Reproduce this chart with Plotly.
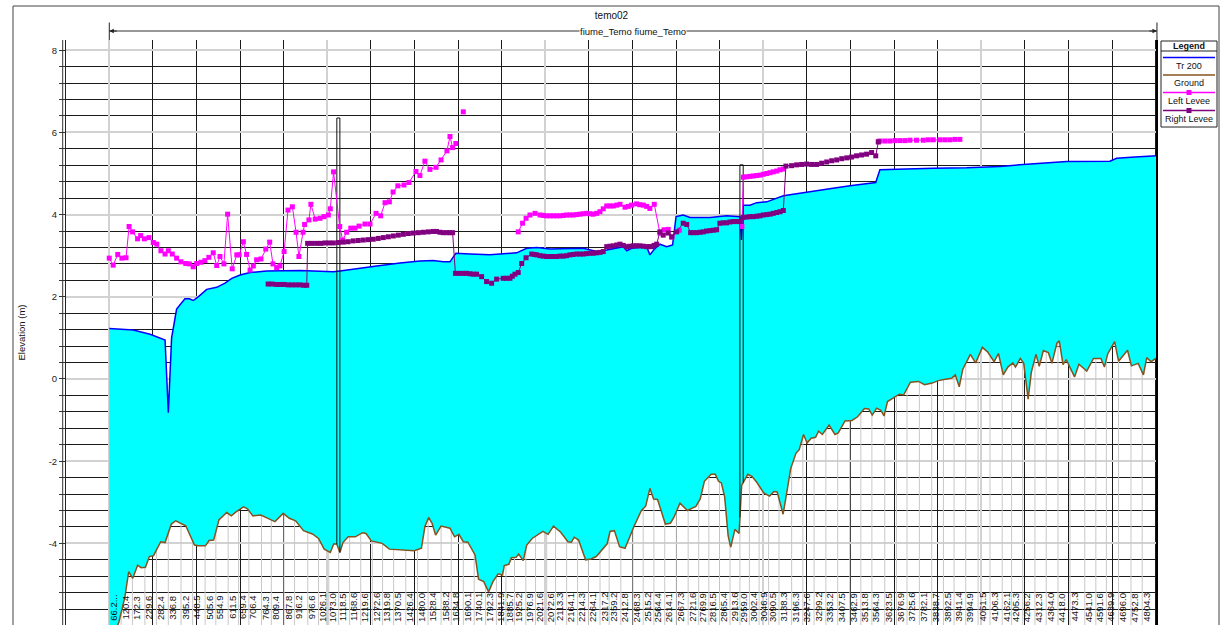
import numpy as np
import plotly.graph_objects as go

# ---------------- data ----------------
title_text = "temo02"
reach_text = "fiume_Temo fiume_Temo"
y_title = "Elevation (m)"

label_stations = [66.2, 120.4, 172.3, 229.6, 282.4, 336.8, 395.2, 448.5, 505.6, 554.9,
                  611.5, 659.4, 706.4, 764.3, 809.4, 867.8, 916.2, 976.6, 1026.1, 1073.0,
                  1118.5, 1168.6, 1219.6, 1272.6, 1319.8, 1370.5, 1426.4, 1480.0, 1528.4, 1588.2,
                  1634.8, 1690.1, 1740.1, 1792.3, 1841.9, 1885.7, 1925.2, 1976.9, 2021.6, 2072.6,
                  2113.3, 2164.1, 2214.3, 2264.1, 2317.2, 2359.2, 2412.8, 2468.3, 2515.2, 2564.4,
                  2614.1, 2667.3, 2721.6, 2769.9, 2816.5, 2865.4, 2913.6, 2959.0, 3002.4, 3046.9,
                  3090.5, 3138.3, 3196.3, 3247.6, 3299.2, 3353.2, 3407.5, 3462.9, 3513.8, 3564.3,
                  3623.5, 3676.9, 3725.6, 3782.1, 3838.7, 3892.5, 3941.4, 3994.9, 4051.5, 4106.3,
                  4162.1, 4205.3, 4256.2, 4312.3, 4364.0, 4418.0, 4473.3, 4541.0, 4591.6, 4639.9,
                  4696.0, 4752.8, 4804.3]
label_text = ["66.2..."] + [f"{v:.1f}" for v in label_stations[1:]]
last_station = 4872

ground_x = [66, 111, 138, 155, 174, 196, 212, 232, 250, 269,
            302, 322, 351, 371, 417, 441, 457, 474, 507, 524,
            545, 569, 605, 626, 646, 682, 700, 725, 761, 794,
            826, 864, 892, 921, 957, 998, 1026, 1052, 1080, 1096,
            1110, 1124, 1138, 1162, 1195, 1228, 1244, 1268, 1318, 1351,
            1465, 1498, 1514, 1531, 1547, 1563, 1588, 1629, 1650, 1670,
            1690, 1711, 1744, 1760, 1784, 1806, 1826, 1850, 1870, 1878,
            1899, 1911, 1932, 1944, 1965, 1981, 2006, 2055, 2079, 2104,
            2137, 2170, 2186, 2199, 2219, 2251, 2276, 2300, 2325, 2350,
            2363, 2383, 2407, 2432, 2473, 2506, 2527, 2546, 2563, 2581,
            2617, 2640, 2656, 2684, 2718, 2757, 2777, 2796, 2827, 2846,
            2861, 2874, 2889, 2905, 2917, 2936, 2955, 2967, 2995, 3014,
            3037, 3068, 3095, 3115, 3130, 3157, 3169, 3192, 3216, 3231,
            3251, 3267, 3286, 3306, 3320, 3337, 3368, 3395, 3410, 3441,
            3473, 3499, 3530, 3550, 3566, 3586, 3605, 3620, 3636, 3659,
            3690, 3710, 3741, 3778, 3806, 3841, 3869, 3908, 3931, 3947,
            3965, 3981, 4016, 4040, 4071, 4095, 4125, 4145, 4167, 4188,
            4211, 4223, 4245, 4261, 4281, 4296, 4317, 4332, 4351, 4374,
            4390, 4413, 4424, 4441, 4456, 4494, 4514, 4550, 4581, 4615,
            4631, 4646, 4678, 4696, 4737, 4755, 4786, 4810, 4825, 4845,
            4864, 4872]
ground_z = [-6.6, -5.9, -5.30, -4.69, -4.85, -4.53, -4.59, -4.58, -4.32, -4.30,
            -3.96, -3.98, -3.53, -3.45, -3.57, -3.84, -4.04, -4.06, -4.06, -3.93,
            -3.92, -3.43, -3.25, -3.33, -3.24, -3.11, -3.16, -3.33, -3.31, -3.39,
            -3.47, -3.27, -3.39, -3.45, -3.69, -3.77, -3.88, -4.14, -4.22, -4.01,
            -4.02, -4.22, -3.98, -3.84, -3.84, -3.74, -3.76, -3.94, -4.00, -4.14,
            -4.18, -4.12, -3.59, -3.37, -3.51, -3.80, -3.58, -3.63, -3.84, -3.78,
            -3.96, -3.97, -4.28, -4.87, -4.93, -5.18, -4.93, -4.74, -4.77, -4.54,
            -4.51, -4.35, -4.34, -4.26, -4.42, -4.04, -3.88, -3.71, -3.78, -3.58,
            -3.73, -3.96, -3.97, -3.85, -3.92, -4.40, -4.38, -4.32, -4.16, -4.01,
            -3.71, -3.69, -4.08, -4.12, -3.59, -3.21, -3.09, -2.66, -2.92, -2.93,
            -3.53, -3.51, -3.37, -3.02, -3.20, -3.10, -2.92, -2.49, -2.32, -2.32,
            -2.49, -2.53, -2.87, -3.82, -4.09, -3.66, -3.76, -2.59, -2.32, -2.37,
            -2.52, -2.77, -2.85, -2.74, -2.75, -3.29, -2.92, -2.18, -1.81, -1.72,
            -1.35, -1.56, -1.44, -1.42, -1.27, -1.35, -1.12, -1.35, -1.31, -1.02,
            -1.01, -0.92, -0.72, -0.73, -0.88, -0.71, -0.76, -0.90, -0.55, -0.47,
            -0.37, -0.39, -0.08, -0.06, -0.14, -0.10, -0.04, 0.00, 0.02, 0.10,
            -0.19, 0.23, 0.60, 0.39, 0.77, 0.66, 0.42, 0.62, 0.10, 0.29,
            0.39, 0.29, 0.50, 0.38, -0.49, 0.17, 0.60, 0.31, 0.69, 0.64,
            0.38, 0.87, 0.93, 0.35, 0.47, 0.05, 0.36, 0.19, 0.50, 0.50,
            0.29, 0.61, 0.91, 0.43, 0.70, 0.32, 0.38, 0.10, 0.52, 0.42,
            0.50, 0.52]

ws_x = [66, 176, 253, 299, 322, 337, 352, 375, 413, 433,
        451, 474, 513, 559, 597, 628, 666, 712, 788, 941,
        1094, 1124, 1201, 1293, 1400, 1491, 1552, 1598, 1629, 1641,
        1656, 1721, 1812, 1935, 1981, 2027, 2088, 2240, 2302, 2348,
        2394, 2424, 2440, 2462, 2531, 2546, 2565, 2592, 2623, 2650,
        2666, 2699, 2730, 2822, 2898, 2959, 2966, 2974, 3005, 3036,
        3082, 3158, 3234, 3311, 3386, 3464, 3582, 3601, 3693, 3846,
        3999, 4152, 4259, 4458, 4656, 4687, 4771, 4872]
ws_z = [1.23, 1.19, 1.09, 0.99, 0.95, -0.82, 1.00, 1.70, 1.95, 1.95,
        1.91, 2.00, 2.18, 2.23, 2.33, 2.45, 2.53, 2.59, 2.63, 2.64,
        2.61, 2.63, 2.69, 2.75, 2.82, 2.87, 2.88, 2.85, 2.85, 2.94,
        3.06, 3.04, 3.02, 3.07, 3.18, 3.20, 3.16, 3.18, 3.10, 3.14,
        3.18, 3.22, 3.12, 3.18, 3.22, 3.02, 3.15, 3.28, 3.22, 3.26,
        3.95, 3.99, 3.93, 3.93, 3.97, 3.95, 3.38, 4.23, 4.23, 4.29,
        4.31, 4.46, 4.52, 4.59, 4.64, 4.70, 4.78, 5.09, 5.11, 5.13,
        5.14, 5.17, 5.22, 5.29, 5.30, 5.37, 5.40, 5.43]

left_levee_x = [66, 84, 105, 124, 143, 157, 173, 196, 210, 227,
                248, 268, 284, 303, 322, 337, 355, 375, 395, 417,
                433, 451, 467, 487, 505, 523, 543, 559, 574, 592,
                609, 630, 651, 662, 681, 696, 712, 727, 742, 762,
                784, 802, 817, 834, 849, 868, 886, 906, 923, 936,
                955, 962, 982, 991, 1011, 1033, 1051, 1071, 1080, 1095,
                1123, 1137, 1155, 1174, 1193, 1212, 1239, 1262, 1290, 1311,
                1331, 1351, 1368, 1390, 1418, 1441, 1473, 1491, 1514, 1537,
                1565, 1588, 1615, 1629, 1641, 1656, None, 1690, None, 1942,
                1962, 1978, 1996, 2019, 2042, 2057, 2072, 2088, 2103, 2118,
                2134, 2149, 2164, 2179, 2194, 2210, 2225, 2240, 2256, 2271,
                2286, 2302, 2317, 2332, 2348, 2363, 2378, 2394, 2409, 2432,
                2447, 2462, 2485, 2500, 2516, 2531, 2546, 2566, 2592, 2611,
                2630, 2647, 2681, None, 2968, 2975, 2990, 3005, 3020, 3036,
                3051, 3066, 3082, 3097, 3112, 3128, 3143, 3158, None, 3594,
                3601, 3624, 3647, 3670, 3693, 3716, 3739, 3769, 3800, 3823,
                3846, 3876, 3899, 3922, 3945, 3968]
left_levee_z = [2.94, 2.77, 3.03, 2.94, 2.95, 3.71, 3.58, 3.41, 3.49, 3.41,
                3.44, 3.32, 3.28, 3.12, 3.04, 3.12, 3.04, 2.94, 2.85, 2.81,
                2.80, 2.73, 2.81, 2.84, 2.88, 2.96, 3.07, 2.76, 2.98, 2.80,
                4.01, 2.68, 3.02, 3.02, 3.34, 3.03, 2.65, 2.75, 2.90, 2.92,
                3.16, 3.33, 2.80, 2.71, 2.75, 3.10, 4.11, 4.19, 3.57, 2.98,
                3.57, 3.76, 3.87, 4.25, 3.89, 3.91, 3.95, 3.99, 4.14, 5.04,
                3.71, 3.38, 3.57, 3.67, 3.67, 3.72, 3.77, 3.77, 4.03, 3.97,
                4.29, 4.31, 4.55, 4.70, 4.72, 4.78, 5.05, 4.95, 5.30, 5.10,
                5.15, 5.33, 5.55, 5.90, 5.63, 5.73, None, 6.50, None, 3.58,
                3.79, 3.91, 3.99, 4.03, 3.99, 3.98, 3.97, 3.97, 3.97, 3.97,
                3.97, 3.98, 3.99, 3.99, 3.99, 4.00, 4.01, 4.02, 4.03, 4.02,
                4.01, 4.03, 4.07, 4.14, 4.21, 4.21, 4.21, 4.23, 4.25, 4.18,
                4.20, 4.23, 4.26, 4.24, 4.23, 4.20, 4.15, 4.25, 3.55, 3.63,
                3.64, 3.45, 3.62, None, 3.71, 4.91, 4.92, 4.93, 4.94, 4.95,
                4.96, 4.98, 5.00, 5.02, 5.04, 5.06, 5.09, 5.11, None, 5.77,
                5.79, 5.79, 5.79, 5.80, 5.80, 5.80, 5.81, 5.81, 5.81, 5.82,
                5.82, 5.82, 5.82, 5.82, 5.83, 5.83]

right_levee_x = [795, 813, 832, 850, 868, 887, 905, 923, 941, 958,
                 972, 976, 997, 1018, 1037, 1056, 1075, 1094, 1117, 1140,
                 1162, 1185, 1208, 1231, 1254, 1277, 1300, 1323, 1346, 1369,
                 1392, 1415, 1438, 1461, 1484, 1507, 1530, 1552, 1567, 1583,
                 1598, 1614, 1628, 1641, 1654, 1672, 1690, 1705, 1721, 1736,
                 1751, 1774, 1797, 1820, 1843, 1873, 1888, 1904, 1915, 1927,
                 1942, 1958, 1978, 2004, 2016, 2027, 2042, 2057, 2072, 2088,
                 2103, 2118, 2134, 2149, 2164, 2179, 2194, 2210, 2225, 2240,
                 2256, 2271, 2286, 2302, 2317, 2332, 2348, 2363, 2378, 2394,
                 2409, 2424, 2440, 2455, 2470, 2485, 2500, 2516, 2531, 2542,
                 2554, 2565, 2577, 2592, 2607, 2630, 2646, 2669, 2699, 2715,
                 2733, 2746, 2761, 2776, 2791, 2806, 2822, 2837, 2852, 2867,
                 2882, 2898, 2913, 2928, 2944, 2959, 2974, 2990, 3005, 3020,
                 3036, 3051, 3066, 3082, 3097, 3112, 3128, 3143, 3158, 3170,
                 3196, 3219, 3242, 3265, 3288, 3311, 3334, 3357, 3380, 3403,
                 3426, 3449, 3471, 3494, 3517, 3540, 3563, 3582, 3594]
right_levee_z = [2.31, 2.31, 2.30, 2.30, 2.30, 2.29, 2.29, 2.29, 2.29, 2.28,
                 2.28, 3.30, 3.30, 3.30, 3.30, 3.31, 3.31, 3.31, 3.32, 3.33,
                 3.34, 3.36, 3.37, 3.38, 3.39, 3.40, 3.42, 3.44, 3.46, 3.48,
                 3.50, 3.52, 3.54, 3.55, 3.56, 3.57, 3.58, 3.59, 3.59, 3.57,
                 3.56, 3.56, 3.56, 3.56, 2.57, 2.57, 2.57, 2.57, 2.56, 2.55,
                 2.55, 2.49, 2.37, 2.33, 2.43, 2.45, 2.45, 2.45, 2.50, 2.55,
                 2.59, 2.81, 2.95, 3.04, 3.03, 3.02, 3.00, 2.99, 2.98, 2.98,
                 2.98, 2.98, 2.99, 2.99, 3.00, 3.02, 3.03, 3.04, 3.04, 3.04,
                 3.05, 3.06, 3.06, 3.07, 3.08, 3.10, 3.22, 3.23, 3.24, 3.26,
                 3.28, 3.25, 3.22, 3.23, 3.24, 3.24, 3.24, 3.23, 3.22, 3.22,
                 3.22, 3.25, 3.28, 3.58, 3.50, 3.55, 3.46, 3.58, 3.79, 3.76,
                 3.56, 3.56, 3.56, 3.57, 3.58, 3.60, 3.61, 3.62, 3.63, 3.79,
                 3.80, 3.80, 3.82, 3.83, 3.83, 3.83, 3.93, 3.94, 3.95, 3.95,
                 3.96, 3.97, 3.99, 4.00, 4.01, 4.03, 4.05, 4.07, 4.10, 5.18,
                 5.19, 5.21, 5.22, 5.23, 5.22, 5.22, 5.25, 5.28, 5.31, 5.33,
                 5.36, 5.38, 5.40, 5.43, 5.45, 5.47, 5.51, 5.43, 5.77]

bridge_us = [1110, 2959]
bridge_ds = [1124, 2974]
bridge_top = [6.35, 5.21]

y_tick_vals = [-6, -4, -2, 0, 2, 4, 6, 8]
y_tick_text = ["-6", "-4", "-2", "0", "2", "4", "6", "8"]

# ---------------- layout geometry / styles ----------------
W, H = 1221, 625
ML, MR, MT, MB = 66, 64, 40, 0
PW, PH = W - ML - MR, H - MT - MB
X_RANGE = [-132.4, 4872.2]
Y_RANGE = [-5.986, 8.248]
FONT = "Liberation Sans, Arial, sans-serif"
C_WATER_LINE = "#0000ff"
C_WATER_FILL = "#00ffff"
C_GROUND = "#84531f"
C_LEFT = "#ff00ff"
C_RIGHT = "#800080"


def px_x(X):
    return (X - ML) / PW


def px_y(Y):
    return (H - MB - Y) / PH


def data_to_paper_x(s):
    return (s - X_RANGE[0]) / (X_RANGE[1] - X_RANGE[0])


fig = go.Figure()

# cross-section lines below the ground
g_at = np.interp(label_stations, ground_x, ground_z)
sx, sy = [], []
for s, g in zip(label_stations, g_at):
    sx += [s, s, None]
    sy += [g, Y_RANGE[0] - 1, None]
fig.add_trace(go.Scatter(x=sx, y=sy, mode="lines", line=dict(color="#c8c8c8", width=1),
                         hoverinfo="skip", showlegend=False))

fig.add_trace(go.Scatter(x=ground_x, y=ground_z, mode="lines", name="Ground",
                         line=dict(color=C_GROUND, width=1.5), showlegend=False))
fig.add_trace(go.Scatter(x=ws_x, y=ws_z, mode="lines", name="Tr 200",
                         line=dict(color=C_WATER_LINE, width=1.5), fill="tonexty",
                         fillcolor=C_WATER_FILL, showlegend=False))

# bridges
bx, by = [], []
for us, ds, top in zip(bridge_us, bridge_ds, bridge_top):
    g_us, g_ds = np.interp([us, ds], ground_x, ground_z)
    bx += [us, us, ds, ds, None]
    by += [g_us, top, top, g_ds, None]
fig.add_trace(go.Scatter(x=bx, y=by, mode="lines", line=dict(color="#111111", width=1),
                         hoverinfo="skip", showlegend=False))

fig.add_trace(go.Scatter(x=left_levee_x, y=left_levee_z, mode="lines+markers", name="Left Levee",
                         line=dict(color=C_LEFT, width=1),
                         marker=dict(symbol="square", size=5, color=C_LEFT),
                         connectgaps=False, showlegend=False))
fig.add_trace(go.Scatter(x=right_levee_x, y=right_levee_z, mode="lines+markers", name="Right Levee",
                         line=dict(color=C_RIGHT, width=1),
                         marker=dict(symbol="square", size=5, color=C_RIGHT),
                         connectgaps=False, showlegend=False))

annotations = []
for s, t in zip(label_stations, label_text):
    annotations.append(dict(x=s, y=-5.56, xref="x", yref="y", text=t, textangle=-90,
                            xanchor="center", yanchor="middle",
                            showarrow=False, xshift=4, font=dict(size=9.5, color="#111", family=FONT)))

shapes = []
# outer frame
shapes.append(dict(type="rect", xref="paper", yref="paper", x0=px_x(13), x1=px_x(1219),
                   y0=px_y(700), y1=px_y(6), line=dict(color="#444", width=1)))
# double axis line at left
shapes.append(dict(type="line", xref="paper", yref="paper", x0=px_x(62.7), x1=px_x(62.7),
                   y0=0, y1=1, line=dict(color="#333", width=1)))
# thicker right border
shapes.append(dict(type="line", xref="paper", yref="paper", x0=1, x1=1, y0=0, y1=1,
                   line=dict(color="#000", width=2)))
# reach extent bar
rx0 = data_to_paper_x(label_stations[0])
rx1 = data_to_paper_x(last_station)
ry = px_y(31)
shapes.append(dict(type="line", xref="paper", yref="paper", x0=rx0, x1=rx1, y0=ry, y1=ry,
                   line=dict(color="#333", width=1)))
for rx in (rx0, rx1):
    shapes.append(dict(type="line", xref="paper", yref="paper", x0=rx, x1=rx,
                       y0=px_y(40), y1=px_y(22.5), line=dict(color="#222", width=1)))
annotations.append(dict(x=rx0, y=ry, xref="paper", yref="paper", text="", showarrow=True,
                        ax=9, ay=0, arrowhead=2, arrowsize=0.9, arrowwidth=1, arrowcolor="#222"))
annotations.append(dict(x=rx1, y=ry, xref="paper", yref="paper", text="", showarrow=True,
                        ax=-9, ay=0, arrowhead=2, arrowsize=0.9, arrowwidth=1, arrowcolor="#222"))
annotations.append(dict(x=(rx0 + rx1) / 2, y=ry, xref="paper", yref="paper", text=reach_text,
                        xanchor="center", yanchor="middle",
                        showarrow=False, bgcolor="white", borderpad=0,
                        font=dict(size=9.5, color="#111", family=FONT)))

# custom legend box (HEC-RAS style: sample line above each name)
shapes.append(dict(type="rect", xref="paper", yref="paper", x0=px_x(1161), x1=px_x(1217),
                   y0=px_y(127), y1=px_y(41), line=dict(color="#222", width=1), fillcolor="white"))
shapes.append(dict(type="line", xref="paper", yref="paper", x0=px_x(1161), x1=px_x(1217),
                   y0=px_y(51), y1=px_y(51), line=dict(color="#222", width=1)))
annotations.append(dict(x=px_x(1189), y=px_y(46), xref="paper", yref="paper", text="<b>Legend</b>",
                        xanchor="center", yanchor="middle",
                        showarrow=False, font=dict(size=9, color="#111", family=FONT)))
legend_items = [("Tr 200", C_WATER_LINE, False, 57.5, 66),
                ("Ground", C_GROUND, False, 75, 83.5),
                ("Left Levee", C_LEFT, True, 92.5, 101),
                ("Right Levee", C_RIGHT, True, 110.5, 119.5)]
for name, col, mk, yl, yt in legend_items:
    shapes.append(dict(type="line", xref="paper", yref="paper", x0=px_x(1163), x1=px_x(1215),
                       y0=px_y(yl), y1=px_y(yl), line=dict(color=col, width=1.3)))
    if mk:
        shapes.append(dict(type="rect", xref="paper", yref="paper", x0=px_x(1186.5), x1=px_x(1191.5),
                           y0=px_y(yl + 2.5), y1=px_y(yl - 2.5), line=dict(width=0), fillcolor=col))
    annotations.append(dict(x=px_x(1189), y=px_y(yt), xref="paper", yref="paper", text=name,
                            xanchor="center", yanchor="middle",
                            showarrow=False, font=dict(size=9, color="#111", family=FONT)))

fig.update_layout(
    width=W, height=H,
    margin=dict(l=ML, r=MR, t=MT, b=MB, pad=0),
    paper_bgcolor="white", plot_bgcolor="white",
    font=dict(family=FONT, size=10, color="#111"),
    showlegend=False,
    title=dict(text=title_text, x=px_x(611.5), xref="paper", xanchor="center",
               y=1 - 15.7 / H, yref="container", yanchor="middle",
               font=dict(size=10, color="#111", family=FONT)),
    xaxis=dict(range=X_RANGE, tick0=66.2, dtick=1000, showticklabels=False, ticks="",
               showgrid=True, gridcolor="#d2d2d2", gridwidth=1.5, zeroline=False, showline=False,
               minor=dict(tick0=66.2, dtick=200, showgrid=True, gridcolor="#1a1a1a", gridwidth=1, ticks="")),
    yaxis=dict(range=Y_RANGE, tickmode="array", tickvals=y_tick_vals, ticktext=y_tick_text,
               ticks="outside", ticklen=6, tickwidth=1, tickcolor="#333",
               showgrid=True, gridcolor="#d2d2d2", gridwidth=1.5, zeroline=False,
               showline=True, linecolor="#222", linewidth=1, mirror=True,
               tickfont=dict(size=9.5, color="#222", family=FONT),
               minor=dict(tickmode="linear", tick0=0, dtick=0.4, ticks="outside", ticklen=6,
                          tickcolor="#333", showgrid=True, gridcolor="#1a1a1a", gridwidth=1),
               title=dict(text=y_title, standoff=21, font=dict(size=9.5, color="#111", family=FONT))),
    shapes=shapes,
    annotations=annotations,
)

fig.write_html("out.html", config={"displayModeBar": False},
               post_script="document.body.style.margin='0px';")
